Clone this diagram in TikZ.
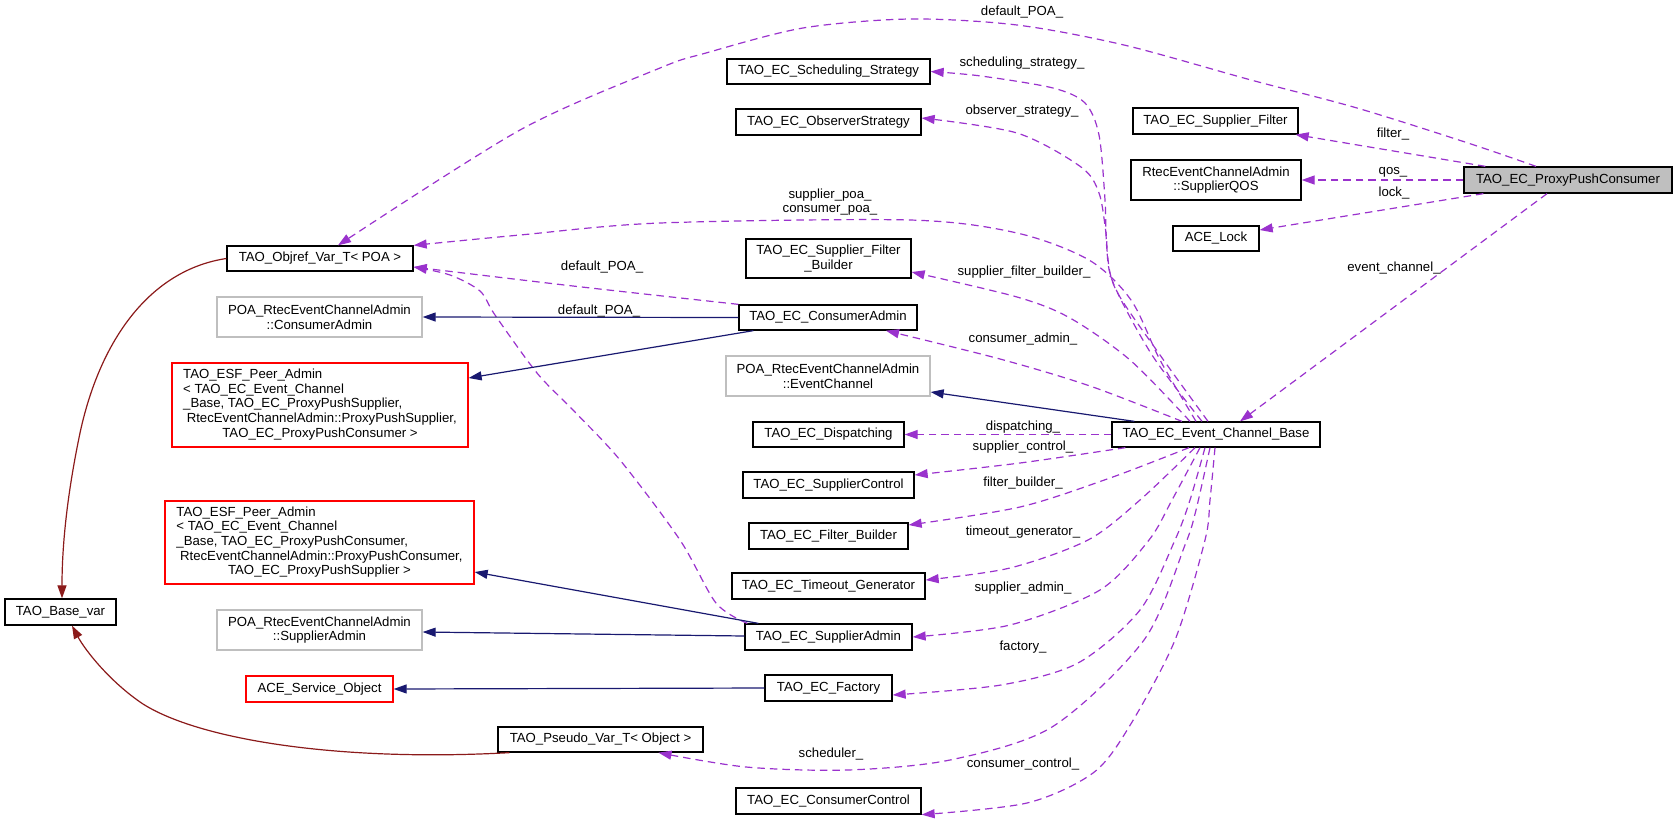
\documentclass[tikz,border=0pt]{standalone}
\usepackage{fontspec}
\setmainfont{Liberation Sans}
\usetikzlibrary{arrows.meta}
\definecolor{depc}{HTML}{9A32CD}
\definecolor{inhc}{HTML}{191970}
\definecolor{tplc}{HTML}{8B1A1A}
\definecolor{grayb}{HTML}{BFBFBF}
\tikzset{
  cls/.style={draw=black, line width=1.3pt, inner sep=0pt, align=center, fill=white, font=\fontsize{13.2}{14.7}\selectfont},
  gcls/.style={cls, draw=grayb},
  rcls/.style={cls, draw=red},
  lbl/.style={inner sep=0pt, font=\fontsize{13.2}{14.7}\selectfont, align=center},
  dep/.style={draw=depc, line width=1.2pt, dash pattern=on 7.5pt off 5pt, -{Triangle[length=13pt,width=9pt]}},
  inh/.style={draw=inhc, line width=1.2pt, -{Triangle[length=13pt,width=9pt]}},
  tpl/.style={draw=tplc, line width=1.2pt, -{Triangle[length=13pt,width=9pt]}},
}
\begin{document}
\begin{tikzpicture}[x=1pt,y=-1pt]
\useasboundingbox (0,0) rectangle (1676,820);
% ---------------- nodes ----------------
\node[cls, fill=grayb, minimum width=208pt, minimum height=26pt] (ppc) at (1568,180) {TAO\_EC\_ProxyPushConsumer};
\node[cls, minimum width=165pt, minimum height=26pt] (sf) at (1215.5,121) {TAO\_EC\_Supplier\_Filter};
\node[cls, minimum width=170pt, minimum height=40pt] (qos) at (1216,180) {RtecEventChannelAdmin\\::SupplierQOS};
\node[cls, minimum width=86pt, minimum height=25pt] (lock) at (1216,238.5) {ACE\_Lock};
\node[cls, minimum width=208pt, minimum height=25pt] (ecb) at (1216,434.5) {TAO\_EC\_Event\_Channel\_Base};
\node[cls, minimum width=203pt, minimum height=25pt] (sched) at (828.5,71.5) {TAO\_EC\_Scheduling\_Strategy};
\node[cls, minimum width=185pt, minimum height=26pt] (obs) at (828.5,122) {TAO\_EC\_ObserverStrategy};
\node[cls, minimum width=165pt, minimum height=39pt] (sfb) at (828.5,258.5) {TAO\_EC\_Supplier\_Filter\\\_Builder};
\node[cls, minimum width=178pt, minimum height=25pt] (ca) at (828,317.5) {TAO\_EC\_ConsumerAdmin};
\node[gcls, minimum width=204pt, minimum height=40pt] (poaec) at (828,376) {POA\_RtecEventChannelAdmin\\::EventChannel};
\node[cls, minimum width=151pt, minimum height=25pt] (disp) at (828.5,434.5) {TAO\_EC\_Dispatching};
\node[cls, minimum width=171pt, minimum height=26pt] (supctl) at (828.5,485) {TAO\_EC\_SupplierControl};
\node[cls, minimum width=159pt, minimum height=26pt] (fb) at (828.5,536) {TAO\_EC\_Filter\_Builder};
\node[cls, minimum width=193pt, minimum height=26pt] (tg) at (828.5,586) {TAO\_EC\_Timeout\_Generator};
\node[cls, minimum width=167pt, minimum height=26pt] (sa) at (828.5,637) {TAO\_EC\_SupplierAdmin};
\node[cls, minimum width=127pt, minimum height=26pt] (fac) at (828.5,688) {TAO\_EC\_Factory};
\node[cls, minimum width=185pt, minimum height=26pt] (cc) at (828.5,801) {TAO\_EC\_ConsumerControl};
\node[cls, minimum width=205pt, minimum height=25pt] (pseudo) at (600.5,739.5) {TAO\_Pseudo\_Var\_T< Object >};
\node[cls, minimum width=186pt, minimum height=25pt] (objref) at (320,258.5) {TAO\_Objref\_Var\_T< POA >};
\node[gcls, minimum width=205pt, minimum height=40pt] (poaca) at (319.5,317) {POA\_RtecEventChannelAdmin\\::ConsumerAdmin};
\node[rcls, minimum width=296pt, minimum height=84pt] (red1) at (320,405) {\begin{tabular}{@{}l@{}}TAO\_ESF\_Peer\_Admin\\< TAO\_EC\_Event\_Channel\\\_Base, TAO\_EC\_ProxyPushSupplier,\\\hspace*{3.6pt}RtecEventChannelAdmin::ProxyPushSupplier,\\\multicolumn{1}{@{}c@{}}{TAO\_EC\_ProxyPushConsumer >}\end{tabular}};
\node[rcls, minimum width=309pt, minimum height=83pt] (red2) at (319.5,542.5) {\begin{tabular}{@{}l@{}}TAO\_ESF\_Peer\_Admin\\< TAO\_EC\_Event\_Channel\\\_Base, TAO\_EC\_ProxyPushConsumer,\\\hspace*{3.6pt}RtecEventChannelAdmin::ProxyPushConsumer,\\\multicolumn{1}{@{}c@{}}{TAO\_EC\_ProxyPushSupplier >}\end{tabular}};
\node[gcls, minimum width=205pt, minimum height=40pt] (poasa) at (319.5,630) {POA\_RtecEventChannelAdmin\\::SupplierAdmin};
\node[rcls, minimum width=147pt, minimum height=26pt] (aso) at (319.5,689) {ACE\_Service\_Object};
\node[cls, minimum width=111pt, minimum height=26pt] (base) at (60.5,612) {TAO\_Base\_var};
% ---------------- edges from ProxyPushConsumer ----------------
\draw[dep] ([xshift=22pt]ppc.north west) -- ([xshift=-3pt]sf.south east);
\draw[dep] (ppc.west) -- (qos.east);
\draw[dep] ([xshift=20pt]ppc.south west) -- ([yshift=8.5pt]lock.east);
\draw[dep] ([xshift=-21pt]ppc.south) -- ([xshift=24pt]ecb.north);
\draw[dep] plot[smooth] coordinates {([xshift=-32pt]ppc.north) (1468,143) (1357,108) (1251,80) (1124,45) (1017,25) (910,19) (803,28) (706,53) (660,68) (520,130) ([xshift=18pt]objref.north)};
% ---------------- edges from Event_Channel_Base (top) ----------------
\draw[dep] plot[smooth] coordinates {([xshift=-8pt]ecb.north) (1160,355) (1116,290) (1107,250) (1105,200) (1099,135) (1085,103) (1053,88) (981,76) (sched.east)};
\draw[dep] plot[smooth] coordinates {([xshift=-14pt]ecb.north) (1152,355) (1112,280) (1106,233) (1099,193) (1081,167) (1017,133) ([yshift=4pt]obs.east)};
\draw[dep] plot[smooth] coordinates {([xshift=-20pt]ecb.north) (1160,360) (1131,300) (1089,260) (1017,233) (910,220) (660,223) (520,235) (objref.north east)};
\draw[dep] plot[smooth] coordinates {([xshift=-26pt]ecb.north) (1130,360) (1070,318) (1017,297) ([yshift=-13.5pt]sfb.east)};
\draw[dep] plot[smooth] coordinates {([xshift=-34pt]ecb.north) (1090,386) (1000,359) ([xshift=58pt]ca.south)};
\draw[dep] (ecb.west) -- (disp.east);
\draw[dep] plot[smooth] coordinates {([xshift=14pt]ecb.south west) (1020,463) ([yshift=10pt]supctl.east)};
\draw[dep] plot[smooth] coordinates {([xshift=-27pt]ecb.south) (1110,478) (1020,507) ([yshift=11pt]fb.east)};
\draw[dep] plot[smooth] coordinates {([xshift=-21pt]ecb.south) (1140,500) (1088,540) (1010,568) ([yshift=6pt]tg.east)};
\draw[dep] plot[smooth] coordinates {([xshift=-16pt]ecb.south) (1172,500) (1149,540) (1100,590) (1010,625) (sa.east)};
\draw[dep] plot[smooth] coordinates {([xshift=-11pt]ecb.south) (1190,500) (1175,540) (1140,610) (1078,663) (1001,685) ([yshift=-7pt]fac.east)};
\draw[dep] plot[smooth] coordinates {([xshift=-6pt]ecb.south) (1196,510) (1185,545) (1144,640) (1052,727) (950,760) (848,770) (746,767) ([xshift=58pt]pseudo.south)};
\draw[dep] plot[smooth] coordinates {([xshift=-1pt]ecb.south) (1210,500) (1205,540) (1175,640) (1129,727) (1093,773) (1027,803) (cc.south east)};
% ---------------- default_POA_ from admins ----------------
\draw[dep] plot[smooth] coordinates {(ca.north west) (573,286) ([yshift=-8.5pt]objref.east)};
\draw[dep] plot[smooth] coordinates {([xshift=3pt]sa.north west) (716,603) (680,540) (620,460) (573,410) (537,373) (495,315) (480,291) (450,275) ([yshift=-8.5pt]objref.east)};
% ---------------- inheritance ----------------
\draw[inh] (ca.west) -- (poaca.east);
\draw[inh] ([xshift=15pt]ca.south west) -- ([yshift=27pt]red1.east);
\draw[inh] ([xshift=23pt]ecb.north west) -- ([yshift=-16pt]poaec.east);
\draw[inh] ([xshift=14pt]sa.north west) -- ([yshift=-29.5pt]red2.east);
\draw[inh] ([yshift=1pt]sa.west) -- ([yshift=-2pt]poasa.east);
\draw[inh] (fac.west) -- (aso.east);
% ---------------- template instances ----------------
\draw[tpl] (objref.west) .. controls (150,270) and (100,340) .. (80,433) .. controls (66,500) and (62,550) .. ([xshift=1.5pt]base.north);
\draw[tpl] ([xshift=12pt]pseudo.south west) .. controls (340,762) and (200,740) .. (143,704) .. controls (110,682) and (85,650) .. ([xshift=11.5pt]base.south);
% ---------------- labels ----------------
\node[lbl] (l1) at (1022,12) {default\_POA\_};
\node[lbl] (l2) at (1022,63) {scheduling\_strategy\_};
\node[lbl] (l3) at (1022,111) {observer\_strategy\_};
\node[lbl] (l4) at (1393,134) {filter\_};
\node[lbl] (l5) at (1393,172) {qos\_};
\node[lbl] (l6) at (1394,193) {lock\_};
\node[lbl] (l7) at (830,202) {supplier\_poa\_\\consumer\_poa\_};
\node[lbl] (l8) at (1394,268) {event\_channel\_};
\node[lbl] (l9) at (602,267) {default\_POA\_};
\node[lbl] (l10) at (1024,272) {supplier\_filter\_builder\_};
\node[lbl] (l11) at (599,311) {default\_POA\_};
\node[lbl] (l12) at (1023,339) {consumer\_admin\_};
\node[lbl] (l13) at (1023,427) {dispatching\_};
\node[lbl] (l14) at (1023,447) {supplier\_control\_};
\node[lbl] (l15) at (1023,483) {filter\_builder\_};
\node[lbl] (l16) at (1023,532) {timeout\_generator\_};
\node[lbl] (l17) at (1023,588) {supplier\_admin\_};
\node[lbl] (l18) at (1023,647) {factory\_};
\node[lbl] (l19) at (831,754) {scheduler\_};
\node[lbl] (l20) at (1023,764) {consumer\_control\_};
\end{tikzpicture}
\end{document}
